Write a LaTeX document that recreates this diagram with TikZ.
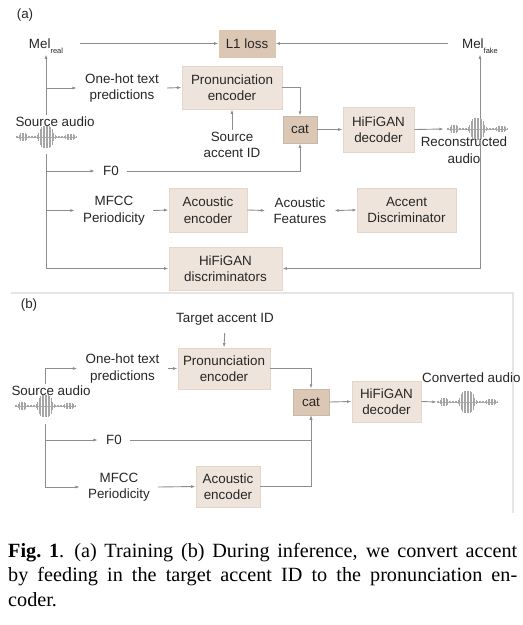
\documentclass[tikz,border=0pt]{standalone}
\usepackage{fontspec}
\setmainfont{Liberation Serif}
\setsansfont{Liberation Sans}
\usetikzlibrary{arrows.meta, positioning, calc}
\definecolor{boxfill}{HTML}{EFE4DB}
\definecolor{boxedge}{HTML}{E6D6C9}
\definecolor{catfill}{HTML}{DCC7B5}
\definecolor{wire}{HTML}{8E8E8E}
\definecolor{ink}{HTML}{262626}
\definecolor{framegray}{HTML}{E3E5E8}

\begin{document}
\begin{tikzpicture}[x=1pt, y=-1pt,
  every node/.style={font=\sffamily\fontsize{13.4}{16.5}\selectfont, text=ink},
  blk/.style={draw=boxedge, fill=boxfill, line width=0.8pt, align=center, inner sep=0pt},
  catbox/.style={draw=catfill!90!black!95, fill=catfill, line width=0.5pt, inner sep=0pt},
  txt/.style={align=center, inner xsep=8pt, inner ysep=2pt},
  melbox/.style={inner sep=1pt},
  arr/.style={-{Latex[length=4.5pt,width=3pt]}, wire, line width=0.9pt},
  arr2/.style={{Latex[length=4pt,width=3pt]}-{Latex[length=4pt,width=3pt]}, wire, line width=0.9pt},
  wavebox/.style={minimum width=60pt, minimum height=22pt, inner sep=0pt},
  wave/.pic={
    \draw[gray!60, line width=0.6pt] (-30,0) -- (30,0);
    \foreach \i in {-30,-28.5,...,30} {
      \pgfmathsetmacro\wa{min((\i/7.5)^2,4)}
      \pgfmathsetmacro\wb{min(((\i+23)/4.5)^2,4)}
      \pgfmathsetmacro\wc{min(((\i-24)/4.5)^2,4)}
      \pgfmathsetmacro\h{10.5*exp(-\wa*\wa)+3.2*exp(-\wb*\wb)+2.8*exp(-\wc*\wc)+0.6}
      \draw[gray!70, line width=0.55pt] (\i,-\h) -- (\i,\h);
    }
  },
  caption/.style={font=\rmfamily\fontsize{20.2}{24.5}\selectfont, text=black,
    text width=509pt, align=justify, inner sep=0pt, anchor=north west},
]
\useasboundingbox (0,0) rectangle (523,625);

% Panel (a): training
\node (tagA) at (25,15) {(a)};
\node[melbox] (melr) at (46,46) {Mel\raisebox{-4.5pt}{\fontsize{7.5}{8}\selectfont real}};
\node[melbox] (melf) at (480,46) {Mel\raisebox{-4.5pt}{\fontsize{7.5}{8}\selectfont fake}};
\node[blk, fill=catfill, draw=catfill, minimum width=56pt, minimum height=27pt] (l1) at (247,43.5) {L1 loss};

\node[txt] (srca) at (55,122) {Source audio};
\node[wavebox] (swa) at (46,137) {};
\pic at (swa) {wave};
\node[txt] (oha) at (122,88) {One-hot text\\predictions};
\node[blk, minimum width=100pt, minimum height=43pt] (pena) at (232,87.5) {Pronunciation\\encoder};
\node[txt] (sacc) at (232,145) {Source\\accent ID};
\node[catbox, minimum width=34pt, minimum height=27pt] (cata) at (300,129.5) {cat};
\node[blk, minimum width=71pt, minimum height=45pt] (deca) at (378.5,129.5) {HiFiGAN\\decoder};
\node[wavebox, minimum width=66pt] (rwave) at (477,129) {};
\pic at (rwave) {wave};
\node[txt, inner xsep=0pt] (rlab) at (464,150) {Reconstructed\\audio};
\node[txt] (f0a) at (111,171) {F0};
\node[txt] (mfa) at (114,210.5) {MFCC\\Periodicity};
\node[blk, minimum width=78pt, minimum height=44pt] (aenca) at (208,210) {Acoustic\\encoder};
\node[txt] (afeat) at (300,210.5) {Acoustic\\Features};
\node[blk, minimum width=99pt, minimum height=44pt] (adisc) at (406.5,210) {Accent\\Discriminator};
\node[blk, minimum width=113pt, minimum height=43pt] (hdisc) at (225.5,268.5) {HiFiGAN\\discriminators};

\draw[arr, shorten <=16pt] (l1.west -| melr.east) -- (l1.west);
\draw[arr, shorten <=13pt] (l1.east -| melf.west) -- (l1.east);
\draw[arr] (srca.north -| melr) -- (melr.south);
\draw[arr] (oha.west -| melr) -- (oha.west);
\draw[arr] (oha.east) -- (pena.west);
\draw[arr] (sacc.north) -- (pena.south);
\draw[arr] (pena.east) -| (cata.north);
\draw[arr] (cata.east) -- (deca.west);
\draw[arr] (deca.east) -- (rwave.west);
\draw[arr] (rwave.north -| melf) -- (melf.south);
\draw[arr] ([yshift=-6pt]swa.south -| melr) |- (hdisc.west);
\draw[arr] (f0a.west -| melr) -- (f0a.west);
\draw[arr] (f0a.east) -| (cata.south);
\draw[arr] (mfa.west -| melr) -- (mfa.west);
\draw[arr] (mfa.east) -- (aenca.west);
\draw[arr] (aenca.east) -- (afeat.west);
\draw[arr2] (afeat.east) -- (adisc.west);
\draw[arr] (rwave.south -| melf) |- (hdisc.east);

% Panel (b): inference
\draw[framegray, line width=2pt] (11,293) -- (513,293) -- (513,513);
\node (tagB) at (29,305) {(b)};
\node[txt] (tacc) at (225,319) {Target accent ID};
\node[txt] (ohb) at (122.5,368.5) {One-hot text\\predictions};
\node[blk, minimum width=92pt, minimum height=41pt] (penb) at (224,368.5) {Pronunciation\\encoder};
\node[txt] (srcb) at (51,391) {Source audio};
\node[wavebox] (swb) at (45,406) {};
\pic at (swb) {wave};
\node[txt] (f0b) at (114,440) {F0};
\node[txt] (mfb) at (119,487) {MFCC\\Periodicity};
\node[blk, minimum width=64pt, minimum height=41pt] (aencb) at (228,486.5) {Acoustic\\encoder};
\node[catbox, minimum width=36pt, minimum height=26pt] (catb) at (311,402) {cat};
\node[blk, minimum width=69pt, minimum height=41pt] (decb) at (386.5,401.5) {HiFiGAN\\decoder};
\node[wavebox] (cwave) at (467,402) {};
\pic at (cwave) {wave};
\node[inner sep=0pt, anchor=west] (clab) at (422,378) {Converted audio};

\draw[arr, shorten <=6pt] (tacc.south) -- (penb.north);
\draw[arr] (srcb.north -| swb) |- (ohb.west);
\draw[arr] (ohb.east) -- (penb.west);
\draw[arr] (penb.east) -| (catb.north);
\draw[arr] ([yshift=-7pt]swb.south) |- (f0b.west);
\draw[arr] ([yshift=-7pt]swb.south) |- (mfb.west);
\draw[arr] (f0b.east) -| (catb.south);
\draw[arr] (mfb.east) -- (aencb.west);
\draw[arr] (aencb.east) -| (catb.south);
\draw[arr] (catb.east) -- (decb.west);
\draw[arr] (decb.east) -- (cwave.west);

% caption
\node[caption] (cap) at (8,543) {\textbf{Fig.~1}.\enspace (a) Training (b) During inference, we convert accent\linebreak by feeding in the target accent ID to the pronunciation en-\linebreak coder.};
\end{tikzpicture}
\end{document}
